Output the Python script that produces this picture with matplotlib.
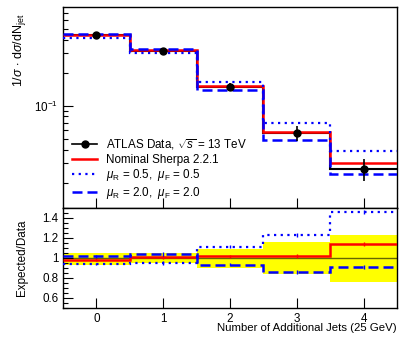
import numpy as np
import matplotlib.pyplot as plt
from matplotlib.lines import Line2D
from matplotlib.ticker import MultipleLocator, NullFormatter, LogLocator

plt.rcParams['font.family'] = ['Liberation Sans', 'DejaVu Sans']
plt.rcParams['mathtext.fontset'] = 'custom'
plt.rcParams['mathtext.rm'] = 'Liberation Sans'
plt.rcParams['mathtext.it'] = 'Liberation Sans:italic'
plt.rcParams['mathtext.sf'] = 'Liberation Sans'
plt.rcParams['font.size'] = 8.4

# number of additional jets (bin edges / centres)
edges = np.array([-0.5, 0.5, 1.5, 2.5, 3.5, 4.5])
njet = [0, 1, 2, 3, 4]

# normalised cross sections
data = [0.445, 0.316, 0.148, 0.0565, 0.0265]
data_err = [0.010, 0.008, 0.012, 0.0085, 0.006]
nominal = [0.437, 0.3185, 0.150, 0.0573, 0.0301]
mu_05 = [0.417, 0.2996, 0.1646, 0.0692, 0.0386]
mu_20 = [0.4517, 0.327, 0.138, 0.0485, 0.0241]

# expected / data
r_nominal = [0.982, 1.008, 1.015, 1.015, 1.135]
r_mu_05 = [0.938, 0.948, 1.112, 1.225, 1.458]
r_mu_20 = [1.015, 1.035, 0.932, 0.858, 0.908]
r_stat = [0.012, 0.02, 0.015, 0.02, 0.02]
band_lo = [0.932, 0.952, 0.895, 0.842, 0.758]
band_hi = [1.052, 1.048, 1.085, 1.158, 1.232]

red = '#ff0000'
blue = '#0000ff'
dotted = (0, (1, 2))
dashed = (0, (4, 2))

fig = plt.figure(figsize=(3.99, 3.38), dpi=100)
ax = fig.add_axes([0.158, 0.385, 0.837, 0.594])
rx = fig.add_axes([0.158, 0.089, 0.837, 0.296], sharex=ax)

# top panel
ax.stairs(data, edges, baseline=None, color='k', lw=1.5, zorder=2)
ax.stairs(nominal, edges, baseline=None, color=red, lw=1.8, zorder=3)
ax.stairs(mu_05, edges, baseline=None, color=blue, lw=1.6, ls=dotted, zorder=4)
ax.stairs(mu_20, edges, baseline=None, color=blue, lw=1.8, ls=dashed, zorder=4)
ax.errorbar(njet, data, yerr=data_err, fmt='o', color='k', ms=5, lw=1.2,
            capsize=0, zorder=5)

ax.set_yscale('log')
ax.set_ylim(0.0118, 0.79)
ax.set_xlim(-0.5, 4.5)
ax.yaxis.set_major_locator(LogLocator(base=10))
ax.yaxis.set_minor_locator(LogLocator(base=10, subs=np.arange(2, 10)))
ax.yaxis.set_minor_formatter(NullFormatter())
ax.set_ylabel(r'1/$\sigma$ $\cdot$ d$\sigma$/dN$_{\rm jet}$', loc='top', fontsize=9)
ax.yaxis.set_label_coords(-0.105, 0.97)
ax.tick_params(axis='x', labelbottom=False)

handles = [
    Line2D([], [], color='k', marker='o', ms=5, lw=1.2),
    Line2D([], [], color=red, lw=1.8),
    Line2D([], [], color=blue, lw=1.6, ls=dotted),
    Line2D([], [], color=blue, lw=1.8, ls=dashed),
]
labels = [
    r'ATLAS Data, $\sqrt{s}$ = 13 TeV',
    'Nominal Sherpa 2.2.1',
    r'$\mu_{\rm R}$ = 0.5,  $\mu_{\rm F}$ = 0.5',
    r'$\mu_{\rm R}$ = 2.0,  $\mu_{\rm F}$ = 2.0',
]
ax.legend(handles, labels, loc='lower left', bbox_to_anchor=(0.0, -0.01),
          frameon=False, fontsize=8.4, handlelength=2.2, handletextpad=0.7,
          labelspacing=0.15, borderaxespad=0.35)

# ratio panel
rx.stairs(band_hi, edges, baseline=band_lo, fill=True, color='#ffff00', lw=0, zorder=1)
rx.axhline(1.0, color='k', lw=1.0, alpha=0.6, zorder=2)
rx.stairs(r_nominal, edges, baseline=None, color=red, lw=1.8, zorder=3)
rx.stairs(r_mu_05, edges, baseline=None, color=blue, lw=1.6, ls=dotted, zorder=4)
rx.stairs(r_mu_20, edges, baseline=None, color=blue, lw=1.8, ls=dashed, zorder=4)
rx.errorbar(njet, r_mu_05, yerr=r_stat, fmt='none', ecolor=blue, lw=1.0, zorder=4)
rx.errorbar(njet, r_mu_20, yerr=r_stat, fmt='none', ecolor=blue, lw=1.0, zorder=4)
rx.errorbar(njet, r_nominal, yerr=r_stat, fmt='none', ecolor=red, lw=1.0, zorder=3)

rx.set_ylim(0.5, 1.5)
rx.set_yticks([0.6, 0.8, 1.0, 1.2, 1.4])
rx.set_yticklabels(['0.6', '0.8', '1', '1.2', '1.4'])
rx.yaxis.set_minor_locator(MultipleLocator(0.05))
rx.set_xticks(njet)
rx.set_ylabel('Expected/Data')
rx.yaxis.set_label_coords(-0.105, 0.5)
rx.set_xlabel('Number of Additional Jets (25 GeV)', loc='right', labelpad=-1,
              fontsize=8.2)

for a in (ax, rx):
    a.tick_params(which='both', direction='in', top=False, right=False,
                  width=0.8, labelsize=8.4)
    a.tick_params(which='major', length=7)
    a.tick_params(which='minor', length=3.6)
    for s in a.spines.values():
        s.set_linewidth(1.0)

fig.savefig('out.png', dpi=100)
